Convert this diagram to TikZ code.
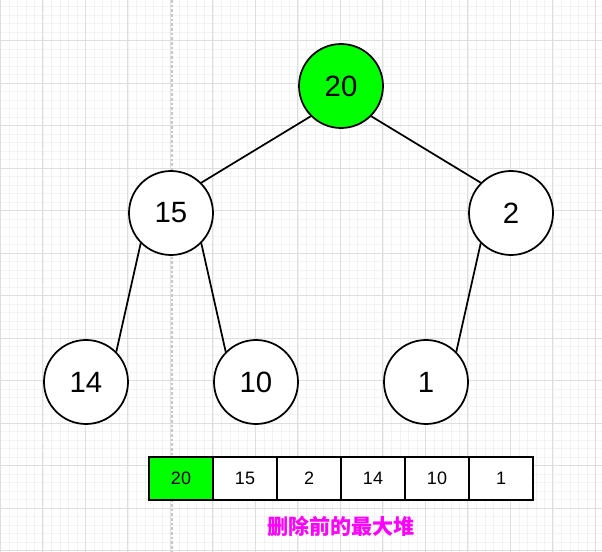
\documentclass[tikz,border=0pt]{standalone}
\usepackage{fontspec}
\setmainfont{Liberation Sans}
\newfontfamily\cjk{Noto Sans CJK SC}
\usetikzlibrary{positioning}
\definecolor{HeapGreen}{HTML}{00FF00}
\definecolor{NoteMagenta}{HTML}{FF00FF}
\definecolor{GridMinor}{HTML}{F3F3F3}
\definecolor{GridMajor}{HTML}{DEDEDE}
\definecolor{GuideGray}{HTML}{C8C8C8}

\begin{document}
\begin{tikzpicture}[x=0.75pt,y=-0.75pt,
      hnode/.style={circle,draw=black,line width=1.3pt,fill=white,
                    minimum size=63pt,inner sep=0pt,
                    font=\fontsize{22}{24}\selectfont},
      cell/.style={draw=black,line width=1.3pt,fill=white,
                   minimum width=48pt,minimum height=32pt,inner sep=0pt,
                   outer sep=0pt,font=\fontsize{13.5}{15}\selectfont},
      edge/.style={line width=1.3pt,black},
    ]
    % background and grid
    \fill[white] (0,0) rectangle (602,552);
    \useasboundingbox (0,0) rectangle (602,552);
    \foreach \i in {0,...,70} {
      \draw[GridMinor,line width=0.4pt] ({\i*8.5+0.3},0) -- ({\i*8.5+0.3},552);
    }
    \foreach \i in {1,...,65} {
      \draw[GridMinor,line width=0.4pt] (0,{\i*8.5-2}) -- (602,{\i*8.5-2});
    }
    \foreach \i in {0,...,14} {
      \draw[GridMajor,line width=0.5pt] ({\i*42.5+0.3},0) -- ({\i*42.5+0.3},552);
    }
    \foreach \i in {1,...,13} {
      \draw[GridMajor,line width=0.5pt] (0,{\i*42.5-2}) -- (602,{\i*42.5-2});
    }
    \draw[GuideGray,line width=0.8pt,dash pattern=on 2pt off 1.5pt] (172,0) -- (172,552);

    % heap tree
    \node[hnode,fill=HeapGreen] (root) at (341,86)  {20};
    \node[hnode] (n15) at (171,213) {15};
    \node[hnode] (n2)  at (511,213) {2};
    \node[hnode] (n14) at (86,382)  {14};
    \node[hnode] (n10) at (256,382) {10};
    \node[hnode] (n1)  at (426,382) {1};

    \draw[edge] (root.south west) -- (n15.north east);
    \draw[edge] (root.south east) -- (n2.north west);
    \draw[edge] (n15.south west)  -- (n14.north east);
    \draw[edge] (n15.south east)  -- (n10.north west);
    \draw[edge] (n2.south west)   -- (n1.north east);

    % array form
    \node[cell,fill=HeapGreen] (c1) at (181,478.5) {20};
    \node[cell,right=0pt of c1] (c2) {15};
    \node[cell,right=0pt of c2] (c3) {2};
    \node[cell,right=0pt of c3] (c4) {14};
    \node[cell,right=0pt of c4] (c5) {10};
    \node[cell,right=0pt of c5] (c6) {1};

    \node[text=NoteMagenta,font=\cjk\bfseries\fontsize{15.8}{18}\selectfont]
      (caption) at (341,526) {删除前的最大堆};
  \end{tikzpicture}
\end{document}
